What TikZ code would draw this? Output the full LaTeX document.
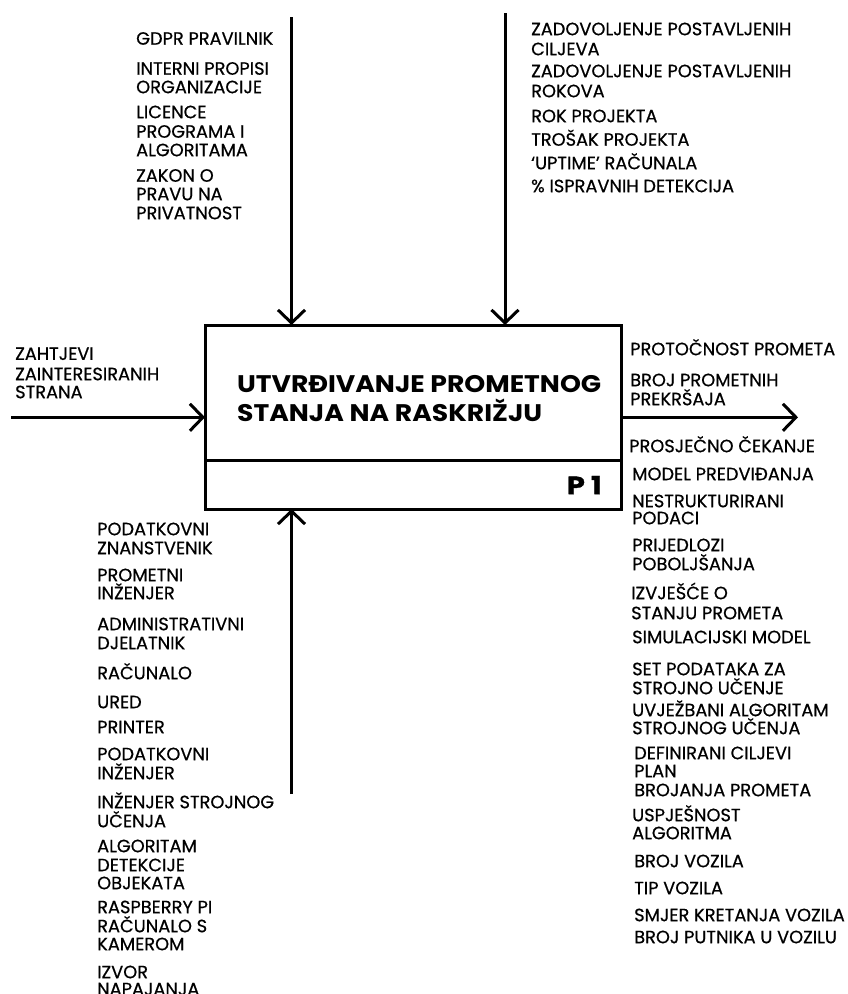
\documentclass[tikz,border=0pt]{standalone}
\usepackage{fontspec}
\setmainfont{Poppins}
\usetikzlibrary{arrows.meta}
\begin{document}
\begin{tikzpicture}[x=1pt,y=-1pt,
  lbl/.style={anchor=west, inner sep=0pt, text height=12.4pt, text depth=0pt, font=\fontsize{17.8}{20}\selectfont\addfontfeatures{FakeBold=0.6}},
  ttl/.style={anchor=west, inner sep=0pt, text height=16.8pt, text depth=0pt, font=\fontsize{24}{28}\selectfont\bfseries\addfontfeatures{FakeStretch=1.11}},
  arr/.style={line width=3pt, -{Straight Barb[length=13pt,width=27pt]}}]
\useasboundingbox (0,0) rectangle (848,994);
\clip (0,0) rectangle (848,994);
\fill[white] (0,0) rectangle (848,994);
% main box
\node (box) [draw, line width=3pt, outer sep=0pt, inner sep=0pt, minimum width=416pt, minimum height=184pt, anchor=north west] at (205,325) {};
\coordinate (dl) at (205,460.5);
\coordinate (dr) at (621,460.5);
\draw[line width=3pt] (dl) -- (dr);
\node[ttl] (title1) at (237,384.3) {UTVRĐIVANJE PROMETNOG};
\node[ttl] (title2) at (237,413.5) {STANJA NA RASKRIŽJU};
\node[anchor=east, inner sep=0pt, text height=17.3pt, text depth=0pt, font=\fontsize{25}{28}\selectfont\bfseries\addfontfeatures{FakeBold=1.2,FakeStretch=1.15}] (p1) at (602,485.5) {P 1};
% arrows
\coordinate (c1s) at (291.5,17);
\draw[arr] (c1s) -- (c1s |- box.north);
\coordinate (c2s) at (505,13);
\draw[arr] (c2s) -- (c2s |- box.north);
\coordinate (ins) at (11,417.3);
\draw[arr] (ins) -- (ins -| box.west);
\coordinate (oute) at (798,417.3);
\draw[arr] (box.east |- oute) -- (oute);
\coordinate (ms) at (291.5,794);
\draw[arr] (ms) -- (ms |- box.south);
% controls left
\foreach \yy/\tt [count=\i] in {38.5/GDPR PRAVILNIK, 68.5/INTERNI PROPISI, 87/ORGANIZACIJE, 112/LICENCE, 131.5/PROGRAMA I, 150/ALGORITAMA, 175.5/ZAKON O, 194/PRAVU NA, 213/PRIVATNOST}
  \node[lbl, name=cl\i] at (136,\yy) {\tt};
% controls right
\foreach \yy/\tt [count=\i] in {29/ZADOVOLJENJE POSTAVLJENIH, 49/CILJEVA, 71/ZADOVOLJENJE POSTAVLJENIH, 91/ROKOVA, 116/ROK PROJEKTA, 139.5/TROŠAK PROJEKTA, 163/‘UPTIME’ RAČUNALA, 186/\% ISPRAVNIH DETEKCIJA}
  \node[lbl, name=cr\i] at (531,\yy) {\tt};
% inputs
\foreach \yy/\tt [count=\i] in {353.7/ZAHTJEVI, 374/ZAINTERESIRANIH, 392/STRANA}
  \node[lbl, name=in\i] at (15,\yy) {\tt};
% outputs
\foreach \xx/\yy/\tt [count=\i] in {630/349/PROTOČNOST PROMETA, 630/380/BROJ PROMETNIH, 630/399/PREKRŠAJA, 629/446/PROSJEČNO ČEKANJE, 632/474/MODEL PREDVIĐANJA, 632/501/NESTRUKTURIRANI, 632/518/PODACI, 632/545/PRIJEDLOZI, 632/564/POBOLJŠANJA, 631/593/IZVJEŠĆE O, 631/613/STANJU PROMETA, 632/637/SIMULACIJSKI MODEL, 632/669/SET PODATAKA ZA, 632/688/STROJNO UČENJE, 632/710/UVJEŽBANI ALGORITAM, 632/728/STROJNOG UČENJA, 634/753/DEFINIRANI CILJEVI, 634/771/PLAN, 634/790/BROJANJA PROMETA, 632/815/USPJEŠNOST, 632/833/ALGORITMA, 634/861/BROJ VOZILA, 634/888/TIP VOZILA, 634/915/SMJER KRETANJA VOZILA, 634/937/BROJ PUTNIKA U VOZILU}
  \node[lbl, name=out\i] at (\xx,\yy) {\tt};
% mechanisms
\foreach \yy/\tt [count=\i] in {529/PODATKOVNI, 548/ZNANSTVENIK, 575/PROMETNI, 593/INŽENJER, 624/ADMINISTRATIVNI, 643/DJELATNIK, 673/RAČUNALO, 702/URED, 727/PRINTER, 754/PODATKOVNI, 773/INŽENJER, 802/INŽENJER STROJNOG, 821/UČENJA, 846/ALGORITAM, 865/DETEKCIJE, 883/OBJEKATA, 907/RASPBERRY PI, 926/RAČUNALO S, 944/KAMEROM, 972/IZVOR, 989/NAPAJANJA}
  \node[lbl, name=me\i] at (97,\yy) {\tt};
\end{tikzpicture}
\end{document}
